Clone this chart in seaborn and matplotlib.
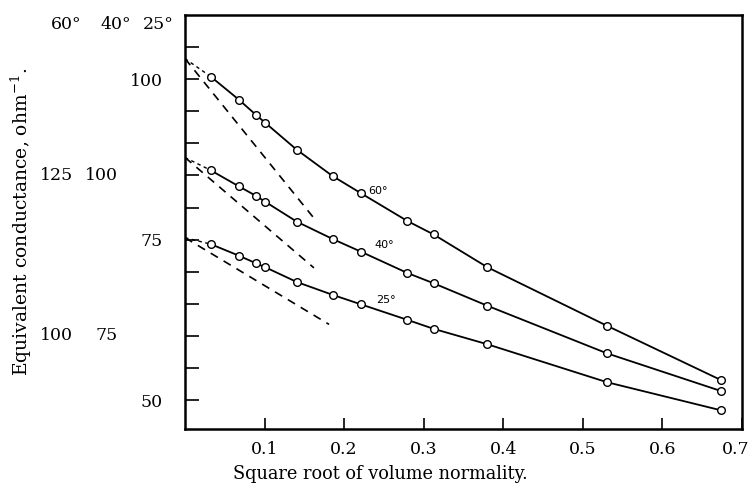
import numpy as np
import pandas as pd
import matplotlib
matplotlib.use("Agg")
import matplotlib.pyplot as plt
import matplotlib.transforms as mtransforms
import seaborn as sns

# square root of volume normality (x)
sqrt_norm = [0.0323, 0.0677, 0.0895, 0.1008, 0.1405, 0.1855, 0.2215, 0.2795, 0.3125, 0.380, 0.530, 0.674]

# equivalent conductance, ohm^-1, in each curve's own scale
cond_60 = [140.4, 136.8, 134.4, 133.2, 129.0, 124.9, 122.2, 117.9, 115.8, 110.7, 101.6, 93.1]
cond_40 = [100.8, 98.3, 96.8, 95.9, 92.8, 90.1, 88.1, 84.8, 83.2, 79.7, 72.3, 66.4]
cond_25 = [74.3, 72.5, 71.3, 70.7, 68.4, 66.4, 64.9, 62.5, 61.1, 58.7, 52.8, 48.4]

temps = ["60°", "40°", "25°"]
offsets = [40, 15, 0]            # shift of each curve's scale against the 25° scale
lambda_zero = [143.2, 102.8, 75.3]   # extrapolated value at zero concentration
limit_x_end = [0.161, 0.162, 0.181]  # end of limiting-slope dashed lines
limit_y_end = [118.5, 85.6, 61.8]

# curve labels
label_x = [0.243, 0.251, 0.253]
label_y = [122.5, 89.2, 65.6]

# left scale labels per column
col_ticks_60 = [125, 100]
col_ticks_40 = [100, 75]
col_ticks_25 = [100, 75, 50]

sns.set_style("ticks")
plt.rcParams['font.family'] = ['DejaVu Serif']
plt.rcParams['mathtext.fontset'] = 'dejavuserif'
for k in ["text.color", "axes.labelcolor", "xtick.color", "ytick.color", "axes.edgecolor"]:
    plt.rcParams[k] = "black"

fig = plt.figure(figsize=(7.5, 4.91), dpi=100)
ax = fig.add_axes([0.2467, 0.1263, 0.7426, 0.8432])

series = [cond_60, cond_40, cond_25]
for name, vals, off, l0, xe, ye, lx, ly in zip(temps, series, offsets, lambda_zero,
                                                limit_x_end, limit_y_end, label_x, label_y):
    df = pd.DataFrame({"x": sqrt_norm, "y": np.array(vals) - off})
    sns.lineplot(data=df, x="x", y="y", ax=ax, color="black", lw=1.3,
                 marker="o", markersize=5.5, markerfacecolor="white",
                 markeredgecolor="black", markeredgewidth=1.0, zorder=3)
    # short dashed extrapolation to the axis
    ax.plot([0, sqrt_norm[0]], [l0 - off, vals[0] - off], color="black",
            lw=1.0, dashes=(2.5, 2.5))
    # limiting slope
    ax.plot([0, xe], [l0 - off, ye - off], color="black", lw=1.2, dashes=(5, 4))
    ax.text(lx, ly - off, name, fontsize=8, family="DejaVu Sans",
            ha="center", va="center")

ax.set_xlim(0, 0.7)
ax.set_ylim(45.5, 110)
ax.set_xticks([0.1, 0.2, 0.3, 0.4, 0.5, 0.6, 0.7])
ax.set_xticklabels(["0.1", "0.2", "0.3", "0.4", "0.5", "0.6", "0.7"])
yt = list(range(50, 110, 5))
ax.set_yticks(yt)
ax.set_yticklabels([str(v) if v in col_ticks_25 else "" for v in yt])
ax.tick_params(axis="y", direction="in", length=10, width=1.2, pad=16, labelsize=12.5)
ax.tick_params(axis="x", direction="in", length=8, width=1.2, pad=9, labelsize=12.5)
# last x label sits against the figure edge
last = ax.get_xticklabels()[-1]
last.set_transform(last.get_transform() + mtransforms.ScaledTranslation(-6 / 100, 0, fig.dpi_scale_trans))

for s in ax.spines.values():
    s.set_linewidth(1.8)
    s.set_visible(True)

# other temperature scales to the left
tr = ax.get_yaxis_transform()
for v in col_ticks_40:
    ax.text(-0.120, v - 15, str(v), transform=tr, ha="right", va="center", fontsize=12.5)
for v in col_ticks_60:
    ax.text(-0.201, v - 40, str(v), transform=tr, ha="right", va="center", fontsize=12.5)
for hx, name in zip([-0.214, -0.124, -0.048], temps):
    ax.text(hx, 0.976, name, transform=ax.transAxes, ha="center", va="center", fontsize=12.5)

ax.set_xlabel("Square root of volume normality.", fontsize=12.8)
ax.set_ylabel("Equivalent conductance, ohm$^{-1}$.", fontsize=13.5)
ax.yaxis.set_label_coords(-0.272, 0.5)
ax.xaxis.set_label_coords(0.35, -0.088)

fig.savefig("out.png", dpi=100)
